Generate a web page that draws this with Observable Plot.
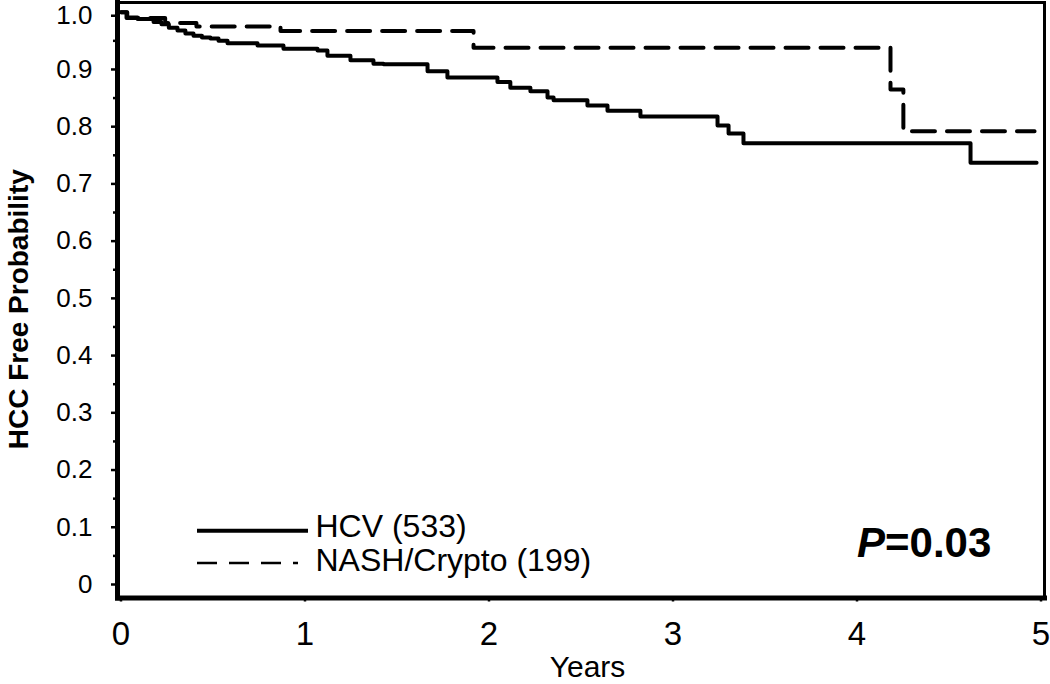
<!DOCTYPE html>
<html><head><meta charset="utf-8">
<script src="https://cdn.jsdelivr.net/npm/d3@7"></script>
<script src="https://cdn.jsdelivr.net/npm/@observablehq/plot@0.6"></script>
<style>body{margin:0;background:#fff} #chart svg{display:block}</style>
</head><body><div id="chart"></div>
<script>
// Kaplan-Meier readings (time in years, HCC-free probability after the step)
const hcvYears = [0, 0.034, 0.09, 0.177, 0.22, 0.26, 0.307, 0.35, 0.394, 0.44, 0.486, 0.53, 0.579, 0.742, 0.883, 1.068, 1.122, 1.247, 1.372, 1.427, 1.666, 1.774, 2.046, 2.116, 2.225, 2.318, 2.351, 2.535, 2.644, 2.823, 3.242, 3.302, 3.383, 4.617, 4.976];
const hcvSurv  = [1.0, 0.991, 0.988, 0.983, 0.979, 0.973, 0.968, 0.963, 0.959, 0.956, 0.954, 0.950, 0.946, 0.942, 0.936, 0.933, 0.924, 0.916, 0.910, 0.909, 0.897, 0.886, 0.878, 0.868, 0.862, 0.851, 0.846, 0.837, 0.828, 0.818, 0.802, 0.788, 0.771, 0.737, 0.737];
const nashYears = [0, 0.03, 0.24, 0.41, 0.867, 1.916, 4.182, 4.252, 4.965];
const nashSurv  = [1.0, 0.990, 0.981, 0.975, 0.967, 0.938, 0.865, 0.792, 0.792];

const yTicks = [0, 0.1, 0.2, 0.3, 0.4, 0.5, 0.6, 0.7, 0.8, 0.9, 1.0];
const yMinorTicks = [0.05, 0.15, 0.25, 0.35, 0.45, 0.55, 0.65, 0.75, 0.85, 0.95];
const xTicks = [0, 1, 2, 3, 4, 5];
const legendLabels = ["HCV (533)", "NASH/Crypto (199)"];
const yLabel = "HCC Free Probability";
const xLabel = "Years";
const pParts = ["P", "=0.03"];

const hcv = hcvYears.map((t, i) => ({t, s: hcvSurv[i]}));
const nash = nashYears.map((t, i) => ({t, s: nashSurv[i]}));

const FONT = "'Liberation Sans', Arial, Helvetica, sans-serif";
const yFmt = d => d === 0 ? "0" : d.toFixed(1);
const yTop = yTicks.filter(d => d === 1);
const yRest = yTicks.filter(d => d !== 1);

const legendMark = (index, scales, values, dims) => {
  const g = d3.create("svg:g");
  const x0 = dims.marginLeft, yb = dims.height - dims.marginBottom;
  g.append("line").attr("x1", x0 + 80).attr("x2", x0 + 191)
    .attr("y1", yb - 66.8).attr("y2", yb - 66.8)
    .attr("stroke", "black").attr("stroke-width", 4);
  g.append("line").attr("x1", x0 + 80).attr("x2", x0 + 181)
    .attr("y1", yb - 34.5).attr("y2", yb - 34.5)
    .attr("stroke", "black").attr("stroke-width", 2.5)
    .attr("stroke-dasharray", "20,12");
  const t = g.append("text").attr("x", x0 + 740).attr("y", yb - 40.5)
    .attr("text-anchor", "start")
    .attr("font-size", 42).attr("font-weight", "bold")
    .attr("font-family", FONT).attr("fill", "black");
  t.append("tspan").attr("font-style", "italic").text(pParts[0]);
  t.append("tspan").text(pParts[1]);
  return g.node();
};

const plot = Plot.plot({
  width: 1050, height: 684,
  marginLeft: 117, marginRight: 6, marginTop: 2, marginBottom: 86.5,
  style: {fontFamily: FONT, background: "white", color: "black"},
  x: {domain: [-0.019, 5.019]},
  y: {domain: [-0.0236, 1.017]},
  marks: [
    Plot.axisY(yRest, {tickFormat: yFmt, tickSize: 6, tickPadding: 19, fontSize: 26, strokeWidth: 2.5, label: null}),
    Plot.axisY(yTop, {tickFormat: yFmt, tickSize: 6, tickPadding: 19, fontSize: 26, strokeWidth: 2.5, label: null, dy: 3.5}),
    Plot.axisY(yMinorTicks, {tickFormat: () => "", tickSize: 4, strokeWidth: 2.5, label: null}),
    Plot.axisX(xTicks, {tickFormat: d => String(d), tickSize: 4, tickPadding: 19.5, fontSize: 33, strokeWidth: 2.5, label: null}),
    Plot.line(hcv, {x: "t", y: "s", curve: "step-after", stroke: "black", strokeWidth: 4}),
    Plot.line(nash, {x: "t", y: "s", curve: "step-after", stroke: "black", strokeWidth: 4, strokeDasharray: "23,12"}),
    Plot.frame({stroke: "black", strokeWidth: 3}),
    Plot.frame({anchor: "left", stroke: "black", strokeWidth: 5}),
    Plot.frame({anchor: "bottom", stroke: "black", strokeWidth: 5}),
    Plot.text([yLabel], {text: d => d, frameAnchor: "left", textAnchor: "middle", lineAnchor: "middle", rotate: -90, dx: -98, dy: 9, fontSize: 28, fontWeight: "bold", fill: "black"}),
    Plot.text([xLabel], {text: d => d, frameAnchor: "bottom", textAnchor: "middle", lineAnchor: "middle", dx: 6.5, dy: 69.5, fontSize: 30, fill: "black"}),
    Plot.text([legendLabels[0]], {text: d => d, frameAnchor: "bottom-left", textAnchor: "start", lineAnchor: "middle", dx: 198, dy: -71, fontSize: 32, fill: "black"}),
    Plot.text([legendLabels[1]], {text: d => d, frameAnchor: "bottom-left", textAnchor: "start", lineAnchor: "middle", dx: 198, dy: -37.5, fontSize: 32, fill: "black"}),
    legendMark
  ]
});
document.getElementById("chart").appendChild(plot);
</script>
</body></html>
